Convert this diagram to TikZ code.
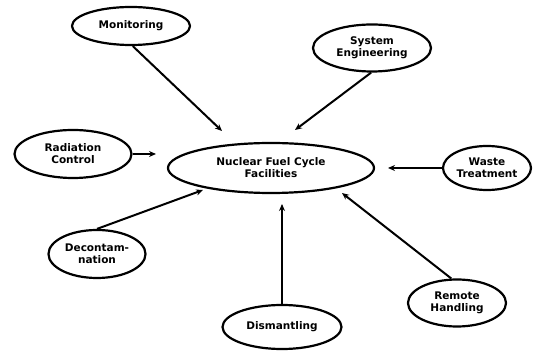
\documentclass[tikz,border=0pt]{standalone}
\usepackage{fontspec}
\setmainfont{DejaVu Sans}
\usetikzlibrary{shapes.geometric,arrows.meta}
\tikzset{
  bubble/.style={ellipse, draw, line width=2.2pt, inner sep=0pt, align=center,
    font=\fontsize{10.5}{12}\selectfont\bfseries},
  conn/.style={line width=2pt, -{Stealth[length=7pt,width=6pt]}}
}
\begin{document}
\begin{tikzpicture}[x=1pt,y=-1pt]
\useasboundingbox (0,0) rectangle (539,352);
\node[bubble, minimum width=206, minimum height=50] (c) at (271,168) {Nuclear Fuel Cycle\\Facilities};
\node[bubble, minimum width=118, minimum height=38] (mon) at (131,26) {Monitoring};
\node[bubble, minimum width=118, minimum height=47] (se) at (372,48) {System\\Engineering};
\node[bubble, minimum width=117, minimum height=48] (rc) at (73,154) {Radiation\\Control};
\node[bubble, minimum width=88, minimum height=44] (wt) at (487,168) {Waste\\Treatment};
\node[bubble, minimum width=97, minimum height=48] (dc) at (97,254) {Decontam-\\nation};
\node[bubble, minimum width=119, minimum height=44] (dm) at (282,327) {Dismantling};
\node[bubble, minimum width=98, minimum height=47] (rh) at (457,303) {Remote\\Handling};
\coordinate (t1) at (222,131);
\coordinate (t2) at (295,130);
\coordinate (t3) at (156,154);
\coordinate (t4) at (388,168);
\coordinate (t5) at (203,190);
\coordinate (t6) at (282,204);
\coordinate (t7) at (342,193);
\draw[conn] (mon.-85) -- (t1);
\draw[conn] (se.-92) -- (t2);
\draw[conn] (rc.east) -- (t3);
\draw[conn] (wt.west) -- (t4);
\draw[conn] (dc.north) -- (t5);
\draw[conn] (dm.north) -- (t6);
\draw[conn] (rh.103) -- (t7);
\end{tikzpicture}
\end{document}
